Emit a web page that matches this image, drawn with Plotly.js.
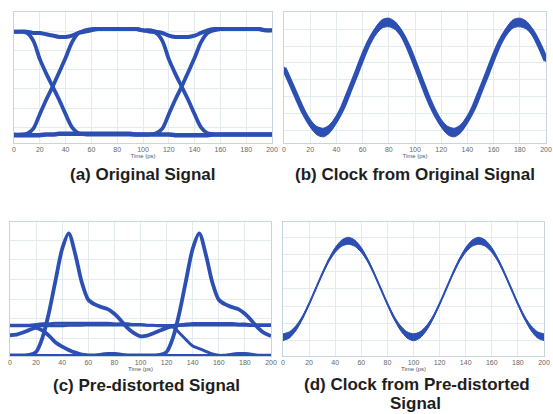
<!DOCTYPE html>
<html>
<head>
<meta charset="utf-8">
<script src="https://cdn.plot.ly/plotly-3.0.1.min.js"></script>
<style>html,body{margin:0;padding:0;background:#fff;}#chart{width:553px;height:414px;}</style>
</head>
<body>
<div id="chart"></div>
<script>
// time axis (ps)
const timePs = [0,5,10,15,20,25,30,35,40,45,50,55,60,65,70,75,80,85,90,95,100,105,110,115,120,125,130,135,140,145,150,155,160,165,170,175,180,185,190,195,200];
const xTickVals = [0,20,40,60,80,100,120,140,160,180,200];
const xTickText = ["0","20","40","60","80","100","120","140","160","180","200"];

// (a) Original signal – eye diagram traces (normalised amplitude)
const aHigh     = [.85,.85,.85,.84,.84,.83,.82,.81,.81,.82,.84,.85,.86,.87,.87,.87,.87,.87,.87,.87,.86,.86,.85,.84,.82,.81,.81,.81,.82,.84,.86,.87,.87,.87,.87,.87,.87,.87,.87,.86,.86];
const aLow      = [.06,.06,.06,.06,.06,.065,.065,.07,.07,.07,.07,.07,.07,.07,.07,.07,.07,.07,.07,.065,.065,.065,.065,.065,.065,.06,.06,.06,.06,.06,.06,.065,.065,.065,.065,.065,.065,.065,.065,.065,.065];
const aFallRise = [.85,.85,.84,.78,.64,.53,.43,.33,.22,.12,.075,.065,.065,.065,.065,.065,.065,.065,.065,.065,.065,.065,.075,.11,.22,.33,.43,.54,.65,.77,.84,.86,.87,.87,.87,.87,.87,.87,.87,.86,.86];
const aRiseFall = [.065,.065,.07,.11,.22,.33,.43,.54,.65,.77,.84,.86,.87,.87,.87,.87,.87,.87,.87,.87,.86,.85,.84,.78,.64,.53,.43,.33,.22,.12,.075,.065,.065,.065,.065,.065,.065,.065,.065,.065,.065];

// (b) Clock from original signal – band centre and extra half width
const bMid  = [.57,.46,.345,.235,.15,.095,.08,.11,.18,.275,.40,.525,.655,.77,.855,.91,.92,.895,.83,.73,.605,.475,.345,.235,.15,.095,.08,.11,.18,.275,.40,.525,.655,.77,.855,.91,.92,.90,.84,.745,.63];
const bHalf = [.012,.01,.012,.02,.028,.032,.033,.031,.024,.016,.011,.01,.012,.02,.028,.032,.033,.03,.024,.016,.011,.01,.012,.02,.028,.032,.033,.031,.024,.016,.011,.01,.012,.02,.028,.032,.033,.03,.024,.016,.011];

// (c) Pre-distorted signal traces
const cPulseA  = [.005,.005,.005,.008,.03,.14,.33,.57,.80,.915,.76,.55,.42,.385,.365,.35,.315,.265,.21,.17,.147,.152,.17,.19,.21,.225,.23,.235,.24,.24,.24,.24,.24,.24,.24,.235,.235,.23,.23,.23,.23];
const cPulseB  = [.155,.16,.175,.195,.21,.19,.15,.10,.07,.045,.025,.01,.005,.005,.005,.005,.005,.005,.005,.005,.005,.005,.005,.008,.03,.14,.33,.57,.80,.915,.76,.55,.42,.385,.365,.35,.315,.265,.21,.17,.15];
const cFlatFall= [.23,.23,.23,.23,.235,.24,.24,.245,.245,.245,.245,.245,.245,.245,.245,.245,.24,.24,.24,.235,.235,.23,.23,.225,.22,.215,.17,.12,.075,.055,.035,.015,.005,.005,.005,.005,.005,.005,.005,.005,.005];
const cFlat    = [.225,.225,.225,.225,.225,.225,.225,.225,.225,.228,.228,.228,.23,.23,.23,.23,.23,.23,.23,.23,.23,.23,.23,.23,.23,.23,.23,.23,.23,.23,.23,.23,.23,.23,.23,.23,.23,.23,.228,.228,.228];
const cBase    = [.005,.005,.005,.005,.005,.005,.005,.005,.005,.005,.005,.005,.005,.005,.015,.02,.02,.015,.006,.005,.005,.005,.005,.005,.005,.005,.005,.005,.005,.005,.005,.005,.005,.005,.015,.02,.02,.015,.006,.005,.005];

// (d) Clock from pre-distorted signal – band centre and extra half width
const dMid  = [.14,.158,.209,.288,.389,.5,.611,.712,.791,.842,.86,.842,.791,.712,.611,.5,.389,.288,.209,.158,.14,.158,.209,.288,.389,.5,.611,.712,.791,.842,.86,.842,.791,.712,.611,.5,.389,.288,.209,.158,.14];
const dHalf = [.025,.023,.018,.011,.006,.004,.006,.011,.018,.023,.026,.023,.018,.011,.006,.004,.006,.011,.018,.023,.026,.023,.018,.011,.006,.004,.006,.011,.018,.023,.026,.023,.018,.011,.006,.004,.006,.011,.018,.023,.025];

const panelTitles = ["(a) Original Signal","(b) Clock from Original Signal","(c) Pre-distorted Signal","(d) Clock from Pre-distorted","Signal"];
const xAxisTitle = "Time (ps)";

const BLUE = '#2c4fb3';
const W = 553, H = 414;

function lineTrace(y, xa, ya, w){
  return {x: timePs, y: y, xaxis: xa, yaxis: ya, type:'scatter', mode:'lines',
          line:{color:BLUE, width:w, shape:'spline', smoothing:0.8}, hoverinfo:'skip'};
}
function bandTraces(mid, half, xa, ya, cw){
  const lo = mid.map((v,i)=>v-half[i]);
  const hi = mid.map((v,i)=>v+half[i]);
  return [
    {x: timePs, y: lo, xaxis: xa, yaxis: ya, type:'scatter', mode:'lines',
     line:{color:BLUE, width:1, shape:'spline', smoothing:0.8}, hoverinfo:'skip'},
    {x: timePs, y: hi, xaxis: xa, yaxis: ya, type:'scatter', mode:'lines', fill:'tonexty', fillcolor:BLUE,
     line:{color:BLUE, width:1, shape:'spline', smoothing:0.8}, hoverinfo:'skip'},
    lineTrace(mid, xa, ya, cw)
  ];
}

const data = [
  lineTrace(aHigh,'x','y',4), lineTrace(aLow,'x','y',4.5),
  lineTrace(aFallRise,'x','y',3.8), lineTrace(aRiseFall,'x','y',3.8),
  ...bandTraces(bMid,bHalf,'x2','y2',5),
  lineTrace(cFlat,'x3','y3',2.6), lineTrace(cFlatFall,'x3','y3',3),
  lineTrace(cBase,'x3','y3',2.6),
  lineTrace(cPulseA,'x3','y3',3.8), lineTrace(cPulseB,'x3','y3',3.8),
  ...bandTraces(dMid,dHalf,'x4','y4',2)
];

function xAx(l,r,anchor){
  return {domain:[l/W,r/W], anchor:anchor, range:[0,200], tickvals:xTickVals, ticktext:xTickText,
    showgrid:true, gridcolor:'#e4ebef', gridwidth:1, zeroline:false, showline:true, mirror:true,
    linecolor:'#c6d6dd', linewidth:1, ticks:'', ticklen:0,
    tickfont:{family:'Liberation Sans, Arial, sans-serif', size:7, color:'#666'},
    title:{text:xAxisTitle, standoff:1, font:{family:'Liberation Sans, Arial, sans-serif', size:6, color:'#555'}}};
}
function yAx(top,bot,anchor,t0,dt){
  return {domain:[1-bot/H,1-top/H], anchor:anchor, range:[0,1], tick0:t0, dtick:dt, tickmode:'linear',
    showticklabels:false, showgrid:true, gridcolor:'#e4ebef', gridwidth:1, zeroline:false,
    showline:true, mirror:true, linecolor:'#c6d6dd', linewidth:1, ticks:''};
}

const tf = {family:'Liberation Sans, Arial, sans-serif', size:17, color:'#1e1e1e'};
function ann(text,x,y){
  return {text:'<b>'+text+'</b>', x:x/W, y:1-y/H, xref:'paper', yref:'paper', showarrow:false,
          xanchor:'center', yanchor:'middle', font:tf};
}

const layout = {
  width:W, height:H, margin:{l:0,r:0,t:0,b:0}, paper_bgcolor:'#fff', plot_bgcolor:'#fff',
  showlegend:false,
  xaxis: xAx(14,272,'y'),  yaxis: yAx(12,143,'x',0.119,0.147),
  xaxis2:xAx(284,546,'y2'), yaxis2:yAx(12,143,'x2',0.096,0.1287),
  xaxis3:xAx(10,271,'y3'), yaxis3:yAx(222,356,'x3',0.13,0.147),
  xaxis4:xAx(283,544,'y4'), yaxis4:yAx(222,356,'x4',0.117,0.128),
  annotations:[
    ann(panelTitles[0],142,174), ann(panelTitles[1],415,174),
    ann(panelTitles[2],146,385), ann(panelTitles[3],417,384), ann(panelTitles[4],415,403)
  ]
};

Plotly.newPlot('chart', data, layout, {staticPlot:true, displayModeBar:false});
</script>
</body>
</html>
